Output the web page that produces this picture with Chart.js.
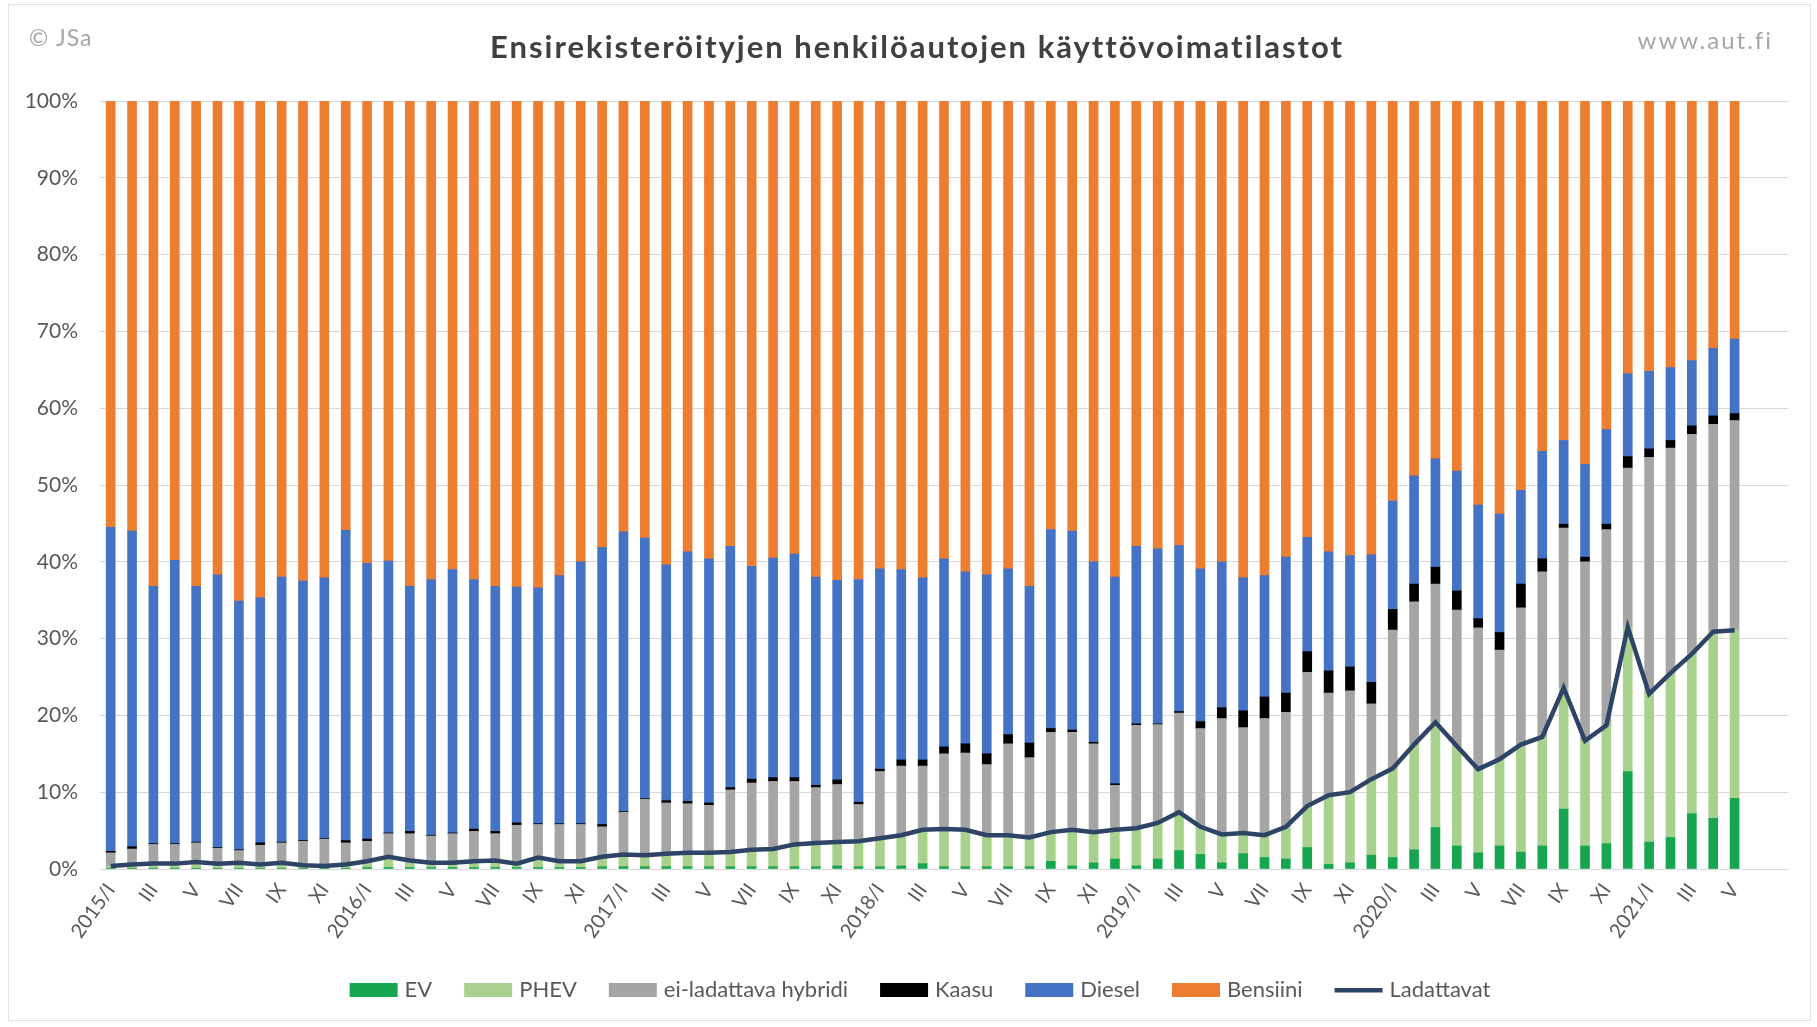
<!DOCTYPE html>
<html lang="fi">
<head>
<meta charset="utf-8">
<title>Ensirekisteröityjen henkilöautojen käyttövoimatilastot</title>
<script src="https://cdn.jsdelivr.net/npm/chart.js@4.4.1/dist/chart.umd.min.js"></script>
<style>
  html, body { margin: 0; padding: 0; background: #ffffff; }
  #kehys { width: 1817px; height: 1027px; position: relative; }
</style>
</head>
<body>
<div id="kehys"><canvas id="kaavio" width="1817" height="1027"></canvas></div>
<script>
// Kuukaudet roomalaisina numeroina, vuodet 2015/I ... 2021/V
const kuukaudet = ['I', 'II', 'III', 'IV', 'V', 'VI', 'VII', 'VIII', 'IX', 'X', 'XI', 'XII'];
const vuodet = [2015, 2016, 2017, 2018, 2019, 2020, 2021];
const viimeinenKk = 5; // 2021/V

// Osuudet ensirekisteröinneistä, %
const ev = [
  0.1, 0.1, 0.1, 0.1, 0.1, 0.1, 0.1, 0.1, 0.1, 0.1, 0.1, 0.1,
  0.2, 0.2, 0.2, 0.2, 0.2, 0.2, 0.2, 0.2, 0.2, 0.2, 0.2, 0.3,
  0.3, 0.3, 0.3, 0.3, 0.3, 0.3, 0.3, 0.3, 0.3, 0.3, 0.4, 0.3,
  0.3, 0.4, 0.7, 0.3, 0.3, 0.3, 0.3, 0.3, 1.0, 0.4, 0.8, 1.3,
  0.4, 1.3, 2.4, 1.9, 0.8, 2.0, 1.5, 1.3, 2.8, 0.6, 0.8, 1.8,
  1.5, 2.5, 5.4, 3.0, 2.1, 3.0, 2.2, 3.0, 7.8, 3.0, 3.3, 12.7,
  3.5, 4.1, 7.2, 6.6, 9.2
];
const phev = [
  0.3, 0.5, 0.6, 0.6, 0.8, 0.6, 0.7, 0.5, 0.7, 0.4, 0.3, 0.5,
  0.8, 1.4, 0.9, 0.6, 0.6, 0.8, 0.9, 0.5, 1.3, 0.8, 0.8, 1.3,
  1.6, 1.5, 1.7, 1.8, 1.8, 1.9, 2.2, 2.3, 2.9, 3.1, 3.1, 3.3,
  3.7, 4.0, 4.4, 4.9, 4.8, 4.1, 4.1, 3.8, 3.8, 4.7, 4.0, 3.8,
  4.9, 4.7, 5.0, 3.6, 3.7, 2.7, 2.9, 4.2, 5.4, 9.0, 9.2, 9.9,
  11.6, 13.7, 13.7, 13.0, 10.9, 11.3, 14.0, 14.2, 15.8, 13.7, 15.4, 18.8,
  19.3, 21.4, 20.8, 24.3, 21.9
];
const hybridi = [
  1.7, 2.0, 2.5, 2.5, 2.5, 2.0, 1.6, 2.5, 2.6, 3.1, 3.5, 2.8,
  2.6, 3.0, 3.5, 3.5, 3.8, 3.9, 3.5, 5.0, 4.3, 4.8, 4.8, 3.9,
  5.5, 7.3, 6.6, 6.4, 6.2, 8.1, 8.7, 8.8, 8.2, 7.2, 7.5, 4.8,
  8.7, 9.0, 8.3, 9.8, 10.0, 9.2, 11.9, 10.4, 13.0, 12.7, 11.5, 5.8,
  13.4, 12.8, 12.9, 12.8, 15.1, 13.7, 15.2, 14.9, 17.4, 13.3, 13.2, 9.8,
  18.0, 18.6, 18.0, 17.7, 18.4, 14.2, 17.8, 21.5, 20.8, 23.3, 25.5, 20.7,
  30.8, 29.3, 28.6, 27.0, 27.3
];
const kaasu = [
  0.2, 0.3, 0.1, 0.1, 0.1, 0.1, 0.1, 0.3, 0.1, 0.1, 0.1, 0.3,
  0.3, 0.1, 0.3, 0.1, 0.1, 0.3, 0.3, 0.3, 0.1, 0.1, 0.1, 0.3,
  0.1, 0.1, 0.3, 0.3, 0.3, 0.3, 0.5, 0.5, 0.5, 0.3, 0.6, 0.3,
  0.3, 0.8, 0.8, 0.9, 1.2, 1.4, 1.2, 1.9, 0.5, 0.3, 0.2, 0.2,
  0.2, 0.1, 0.2, 0.9, 1.4, 2.2, 2.8, 2.5, 2.7, 2.9, 3.1, 2.8,
  2.7, 2.3, 2.2, 2.5, 1.2, 2.3, 3.1, 1.7, 0.5, 0.6, 0.7, 1.5,
  1.1, 1.0, 1.1, 1.1, 0.9
];
const diesel = [
  42.2, 41.1, 33.5, 36.9, 33.3, 35.5, 32.4, 31.9, 34.5, 33.8, 33.9, 40.4,
  35.9, 35.4, 31.9, 33.3, 34.3, 32.5, 31.9, 30.7, 30.7, 32.3, 34.1, 36.1,
  36.4, 33.9, 30.7, 32.5, 31.8, 31.4, 27.7, 28.6, 29.1, 27.1, 26.0, 29.0,
  26.1, 24.8, 23.7, 24.5, 22.4, 23.3, 21.6, 20.4, 25.9, 25.9, 23.5, 26.9,
  23.1, 22.8, 21.6, 19.9, 19.0, 17.3, 15.8, 17.7, 14.9, 15.5, 14.5, 16.6,
  14.1, 14.1, 14.1, 15.6, 14.8, 15.4, 12.2, 14.0, 10.9, 12.1, 12.3, 10.8,
  10.1, 9.5, 8.5, 8.8, 9.7
];
const bensiini = [
  55.5, 56.0, 63.2, 59.8, 63.2, 61.7, 65.1, 64.7, 62.0, 62.5, 62.1, 55.9,
  60.2, 59.9, 63.2, 62.3, 61.0, 62.3, 63.2, 63.3, 63.4, 61.8, 60.0, 58.1,
  56.1, 56.9, 60.4, 58.7, 59.6, 58.0, 60.6, 59.5, 59.0, 62.0, 62.4, 62.3,
  60.9, 61.0, 62.1, 59.6, 61.3, 61.7, 60.9, 63.2, 55.8, 56.0, 60.0, 62.0,
  58.0, 58.3, 57.9, 60.9, 60.0, 62.1, 61.8, 59.4, 56.8, 58.7, 59.2, 59.1,
  52.1, 48.8, 46.6, 48.2, 52.6, 53.8, 50.7, 45.6, 44.2, 47.3, 42.8, 35.5,
  35.2, 34.7, 33.8, 32.2, 31.0
];
// Ladattavat = EV + PHEV
const ladattavat = [
  0.4, 0.6, 0.7, 0.7, 0.9, 0.7, 0.8, 0.6, 0.8, 0.5, 0.4, 0.6,
  1.0, 1.6, 1.1, 0.8, 0.8, 1.0, 1.1, 0.7, 1.5, 1.0, 1.0, 1.6,
  1.9, 1.8, 2.0, 2.1, 2.1, 2.2, 2.5, 2.6, 3.2, 3.4, 3.5, 3.6,
  4.0, 4.4, 5.1, 5.2, 5.1, 4.4, 4.4, 4.1, 4.8, 5.1, 4.8, 5.1,
  5.3, 6.0, 7.4, 5.5, 4.5, 4.7, 4.4, 5.5, 8.2, 9.6, 10.0, 11.7,
  13.1, 16.2, 19.1, 16.0, 13.0, 14.3, 16.2, 17.2, 23.6, 16.7, 18.7, 31.5,
  22.8, 25.5, 28.0, 30.9, 31.1
];
const yTikit = [0, 10, 20, 30, 40, 50, 60, 70, 80, 90, 100];

// kategoriat: vuoden ensimmäinen kuukausi muodossa 2015/I
const kategoriat = [];
vuodet.forEach(v => {
  kuukaudet.forEach((kk, i) => {
    if (v === 2021 && i >= viimeinenKk) return;
    kategoriat.push(i === 0 ? v + '/I' : kk);
  });
});
// kaksi tyhjää paikkaa oikeaan reunaan
const akseliLabelit = kategoriat.concat(['', '']);

const VARIT = {
  ev: '#17a650',
  phev: '#a9d18e',
  hybridi: '#a5a5a5',
  kaasu: '#000000',
  diesel: '#4472c4',
  bensiini: '#ed7d31',
  ladattavat: '#2d4466'
};
const FONTTI = 'Lato, "Open Sans", sans-serif';
const HARMAA = '#595959';

// selitteen väriruutu; kuva on laatikkoa leveämpi, jotta teksti tulee lähemmäs ruutua
function swatch(vari, viiva) {
  const c = document.createElement('canvas');
  c.width = 56;
  c.height = 14;
  const g = c.getContext('2d');
  g.fillStyle = vari;
  if (viiva) {
    g.fillRect(4, 5, 48, 4.5);
  } else {
    g.fillRect(4, 0, 48, 14);
  }
  return c;
}

function pylvas(nimi, data, vari) {
  return {
    type: 'bar',
    label: nimi,
    data: data,
    backgroundColor: vari,
    borderWidth: 0,
    barThickness: 9,
    stack: 'osuus',
    order: 1
  };
}

// Otsikko ja kulmatekstit
const tekstit = {
  id: 'tekstit',
  afterLayout(chart) {
    // selite hieman oikealle
    chart.legend.left += 28;
    chart.legend.right += 28;
  },
  beforeDraw(chart) {
    const ctx = chart.ctx;
    ctx.save();
    ctx.fillStyle = '#ffffff';
    ctx.fillRect(0, 0, chart.width, chart.height);
    ctx.strokeStyle = '#e2e2e2';
    ctx.lineWidth = 1;
    ctx.strokeRect(8.5, 4.5, 1802, 1016);
    ctx.restore();
  },
  afterDraw(chart) {
    const ctx = chart.ctx;
    ctx.save();
    ctx.textBaseline = 'middle';
    ctx.fillStyle = '#404040';
    ctx.font = 'bold 31px ' + FONTTI;
    ctx.letterSpacing = '2px';
    ctx.textAlign = 'center';
    ctx.fillText('Ensirekisteröityjen henkilöautojen käyttövoimatilastot', 917, 48);
    ctx.fillStyle = '#a6a6a6';
    ctx.font = '23px ' + FONTTI;
    ctx.letterSpacing = '1px';
    ctx.textAlign = 'left';
    ctx.fillText('© JSa', 29, 39);
    ctx.font = '24px ' + FONTTI;
    ctx.letterSpacing = '2px';
    ctx.textAlign = 'right';
    ctx.fillText('www.aut.fi', 1773, 41);
    ctx.restore();
  }
};

const ctx = document.getElementById('kaavio').getContext('2d');
new Chart(ctx, {
  data: {
    labels: akseliLabelit,
    datasets: [
      pylvas('EV', ev, VARIT.ev),
      pylvas('PHEV', phev, VARIT.phev),
      pylvas('ei-ladattava hybridi', hybridi, VARIT.hybridi),
      pylvas('Kaasu', kaasu, VARIT.kaasu),
      pylvas('Diesel', diesel, VARIT.diesel),
      pylvas('Bensiini', bensiini, VARIT.bensiini),
      {
        type: 'line',
        label: 'Ladattavat',
        data: ladattavat,
        borderColor: VARIT.ladattavat,
        backgroundColor: VARIT.ladattavat,
        borderWidth: 4.5,
        pointRadius: 0,
        tension: 0,
        stack: 'viiva',
        order: 0
      }
    ]
  },
  options: {
    responsive: false,
    devicePixelRatio: 1,
    animation: false,
    layout: {
      padding: { top: 101, right: 29, bottom: 16, left: 0 }
    },
    plugins: {
      title: { display: false },
      tooltip: { enabled: false },
      legend: {
        display: true,
        position: 'bottom',
        labels: {
          usePointStyle: true,
          pointStyleWidth: 40,
          boxHeight: 14,
          padding: 36,
          color: HARMAA,
          font: { family: FONTTI, size: 22 },
          generateLabels(chart) {
            return chart.data.datasets.map((ds, i) => ({
              text: ds.label,
              datasetIndex: i,
              hidden: false,
              fontColor: HARMAA,
              pointStyle: swatch(ds.type === 'line' ? ds.borderColor : ds.backgroundColor, ds.type === 'line'),
              lineWidth: 0
            }));
          }
        }
      }
    },
    scales: {
      x: {
        stacked: true,
        offset: true,
        grid: { display: false, drawTicks: false },
        border: { display: false },
        afterFit(scale) { scale.height = 74; },
        ticks: {
          autoSkip: false,
          minRotation: 55,
          maxRotation: 55,
          padding: 10,
          color: HARMAA,
          font: { family: FONTTI, size: 20 },
          callback(value, index) {
            return index % 2 === 0 ? akseliLabelit[index] : '';
          }
        }
      },
      y: {
        stacked: true,
        min: 0,
        max: 100,
        afterFit(scale) { scale.width = 100; },
        afterBuildTicks(scale) {
          scale.ticks = yTikit.map(v => ({ value: v }));
        },
        grid: { color: '#d9d9d9', lineWidth: 1, drawTicks: false },
        border: { display: false },
        ticks: {
          padding: 22,
          color: HARMAA,
          font: { family: FONTTI, size: 21 },
          callback(value) { return value + '%'; }
        }
      }
    }
  },
  plugins: [tekstit]
});
</script>
</body>
</html>
